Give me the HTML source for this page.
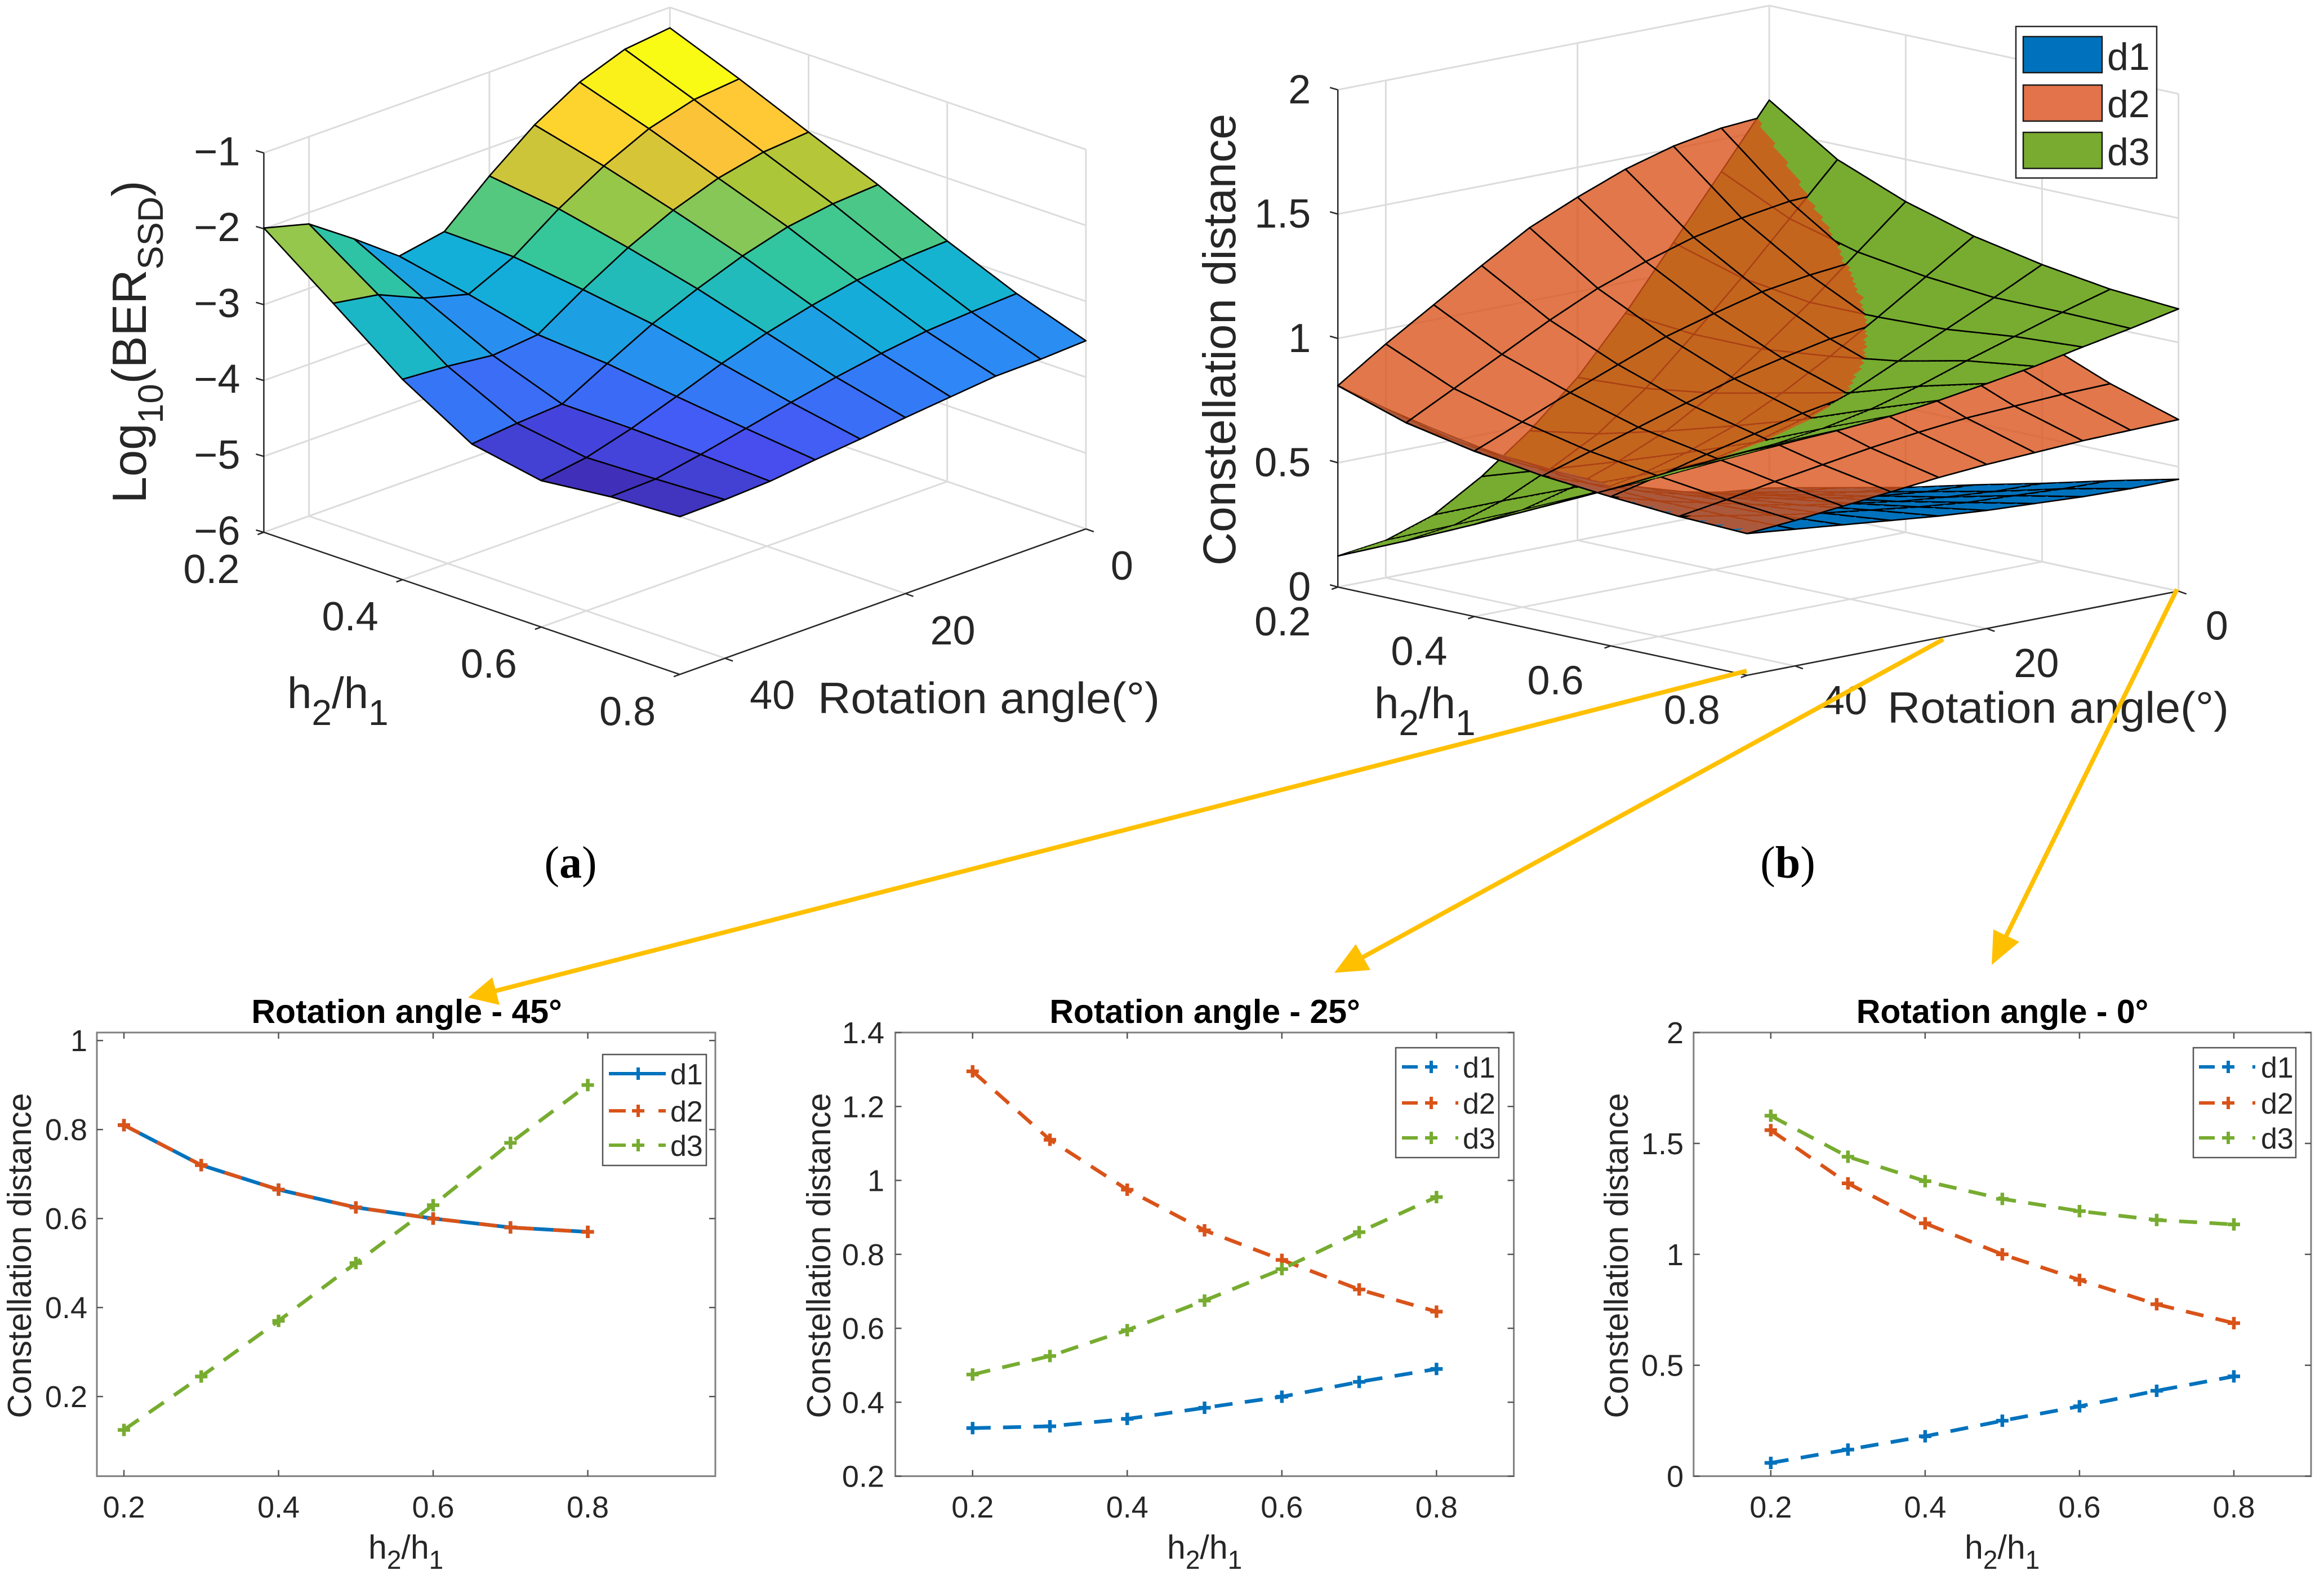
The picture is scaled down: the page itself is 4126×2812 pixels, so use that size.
<!DOCTYPE html>
<html lang="en">
<head>
<meta charset="utf-8">
<title>Constellation distance and BER surfaces</title>
<style>
html,body{margin:0;padding:0;background:#fff;}
svg{display:block;}
text{font-family:"Liberation Sans",sans-serif;fill:#262626;}
.lab3d{font-size:78px;}
.cap{font-family:"Liberation Serif",serif;font-size:80px;fill:#000;}
.ttl{font-size:59px;font-weight:bold;fill:#000;}
.lab2d{font-size:59px;}
</style>
</head>
<body>
<svg id="fig" xmlns="http://www.w3.org/2000/svg" width="4126" height="2812" viewBox="0 0 4126 2812">
<rect x="0" y="0" width="4126" height="2812" fill="#fff"/>

<g id="panelA"></g>
<g id="panelB"></g>

<!-- panel a labels -->
<text transform="translate(259,607) rotate(-90)" text-anchor="middle" font-size="85">Log<tspan dy="30" font-size="63">10</tspan><tspan dy="-30">(BER</tspan><tspan dy="30" font-size="63">SSD</tspan><tspan dy="-30">)</tspan></text>
<text class="lab3d" x="510" y="1257">h<tspan dy="30" font-size="64">2</tspan><tspan dy="-30">/h</tspan><tspan dy="30" font-size="64">1</tspan></text>
<text class="lab3d" x="1452" y="1266" textLength="607" lengthAdjust="spacingAndGlyphs">Rotation angle(°)</text>

<!-- panel b labels -->
<text transform="translate(2193,603) rotate(-90)" text-anchor="middle" font-size="82">Constellation distance</text>
<text class="lab3d" x="2440" y="1275">h<tspan dy="30" font-size="64">2</tspan><tspan dy="-30">/h</tspan><tspan dy="30" font-size="64">1</tspan></text>
<text class="lab3d" x="3351" y="1283" textLength="606" lengthAdjust="spacingAndGlyphs">Rotation angle(°)</text>

<!-- panel b legend -->
<g>
<rect x="3579" y="47" width="250" height="269" fill="#fff" stroke="#262626" stroke-width="2.5"/>
<rect x="3592" y="65" width="140" height="64" fill="#0072BD" stroke="#1a1a1a" stroke-width="2.5"/>
<rect x="3592" y="151" width="140" height="64" fill="#E2734A" stroke="#1a1a1a" stroke-width="2.5"/>
<rect x="3592" y="235" width="140" height="64" fill="#78AB30" stroke="#1a1a1a" stroke-width="2.5"/>
<text x="3741" y="124" font-size="68">d1</text>
<text x="3741" y="208" font-size="68">d2</text>
<text x="3741" y="293" font-size="68">d3</text>
</g>

<!-- captions -->
<text class="cap" x="1013" y="1558" text-anchor="middle">(<tspan font-weight="bold">a</tspan>)</text>
<text class="cap" x="3174" y="1558" text-anchor="middle">(<tspan font-weight="bold">b</tspan>)</text>

<g id="charts"></g>

<!-- chart titles and axis titles -->
<text class="ttl" x="722" y="1816" text-anchor="middle">Rotation angle - 45°</text>
<text class="ttl" x="2139" y="1816" text-anchor="middle">Rotation angle - 25°</text>
<text class="ttl" x="3555" y="1816" text-anchor="middle">Rotation angle - 0°</text>

<text class="lab2d" transform="translate(55,2229) rotate(-90)" text-anchor="middle">Constellation distance</text>
<text class="lab2d" transform="translate(1474,2229) rotate(-90)" text-anchor="middle">Constellation distance</text>
<text class="lab2d" transform="translate(2890,2229) rotate(-90)" text-anchor="middle">Constellation distance</text>

<text class="lab2d" x="654" y="2767">h<tspan dy="18" font-size="46">2</tspan><tspan dy="-18">/h</tspan><tspan dy="18" font-size="46">1</tspan></text>
<text class="lab2d" x="2072" y="2767">h<tspan dy="18" font-size="46">2</tspan><tspan dy="-18">/h</tspan><tspan dy="18" font-size="46">1</tspan></text>
<text class="lab2d" x="3488" y="2767">h<tspan dy="18" font-size="46">2</tspan><tspan dy="-18">/h</tspan><tspan dy="18" font-size="46">1</tspan></text>

<!-- yellow callout arrows -->
<g fill="#FFC000" stroke="none">
<line x1="3101" y1="1191" x2="880" y2="1759" stroke="#FFC000" stroke-width="8"/>
<polygon points="831,1771 874,1735 887,1784"/>
<line x1="3450" y1="1135" x2="2420" y2="1699" stroke="#FFC000" stroke-width="8"/>
<polygon points="2369,1727 2433,1722 2407,1676"/>
<line x1="3865" y1="1046" x2="3562" y2="1661" stroke="#FFC000" stroke-width="8"/>
<polygon points="3536,1713 3585,1672 3539,1650"/>
</g>
</svg>

<script>
// ---------- data: panel (a), log10(BER) rows h2/h1 = .2 ... .8, columns angle = 45 ... 0 (step 5)
const berSurface = [
 [-1.99,-2.15,-2.56,-3.00,-2.89,-2.37,-1.91,-1.56,-1.34,-1.27],
 [-2.67,-2.77,-3.03,-3.19,-2.91,-2.49,-2.14,-1.86,-1.69,-1.63],
 [-3.36,-3.40,-3.47,-3.41,-3.03,-2.69,-2.41,-2.20,-2.07,-2.02],
 [-3.90,-3.84,-3.80,-3.48,-3.17,-2.92,-2.70,-2.53,-2.44,-2.40],
 [-4.07,-3.98,-3.81,-3.60,-3.38,-3.19,-3.04,-2.92,-2.86,-2.83],
 [-3.97,-3.95,-3.84,-3.71,-3.58,-3.46,-3.36,-3.28,-3.24,-3.21],
 [-3.92,-3.91,-3.88,-3.81,-3.75,-3.68,-3.62,-3.56,-3.55,-3.52]
];
// ---------- data: panel (b), same grid
const d1Surface = [
 [.81,.68,.56,.44,.33,.25,.18,.12,.08,.06],
 [.72,.61,.51,.42,.335,.27,.21,.17,.14,.12],
 [.665,.575,.49,.42,.355,.30,.26,.225,.20,.18],
 [.625,.555,.49,.435,.385,.345,.31,.28,.26,.25],
 [.60,.545,.50,.455,.415,.385,.355,.335,.32,.315],
 [.58,.545,.51,.48,.455,.43,.41,.40,.39,.385],
 [.57,.55,.53,.51,.49,.475,.465,.455,.45,.45]
];
const d2Surface = [
 [.81,.94,1.06,1.18,1.295,1.38,1.455,1.51,1.545,1.56],
 [.72,.82,.92,1.02,1.11,1.18,1.24,1.28,1.31,1.32],
 [.665,.745,.825,.90,.975,1.03,1.08,1.11,1.13,1.14],
 [.625,.685,.745,.805,.865,.91,.95,.975,.99,1.0],
 [.60,.645,.695,.74,.785,.82,.85,.87,.88,.885],
 [.58,.61,.645,.675,.705,.73,.75,.76,.77,.775],
 [.57,.585,.605,.625,.645,.66,.67,.68,.685,.69]
];
const d3Surface = [
 [.125,.15,.215,.332,.478,.655,.876,1.122,1.37,1.62],
 [.245,.27,.33,.42,.525,.67,.85,1.04,1.24,1.44],
 [.37,.39,.44,.51,.595,.71,.85,1.0,1.165,1.33],
 [.50,.515,.55,.605,.675,.77,.88,1.0,1.125,1.25],
 [.63,.64,.665,.705,.76,.83,.92,1.01,1.10,1.195],
 [.77,.775,.795,.82,.86,.915,.98,1.04,1.10,1.155],
 [.90,.905,.915,.93,.955,.985,1.017,1.057,1.094,1.135]
];
// ---------- axis ticks of the 3-D panels
const hTicks3d = [0.2,0.4,0.6,0.8];
const hTickLabels3d = ['0.2','0.4','0.6','0.8'];
const angleTicks3d = [40,20,0];
const angleTickLabels3d = ['40','20','0'];
const berTicks = [-6,-5,-4,-3,-2,-1];
const berTickLabels = ['\u22126','\u22125','\u22124','\u22123','\u22122','\u22121'];
const distTicks = [0,0.5,1,1.5,2];
const distTickLabels = ['0','0.5','1','1.5','2'];

// ---------- data: slice charts
const hValues = [0.2,0.3,0.4,0.5,0.6,0.7,0.8];
const a45d1 = [.81,.72,.665,.625,.60,.58,.57];
const a45d2 = [.81,.72,.665,.625,.60,.58,.57];
const a45d3 = [.125,.245,.37,.50,.63,.77,.90];
const a25d1 = [.33,.335,.355,.385,.415,.455,.49];
const a25d2 = [1.295,1.11,.975,.865,.785,.705,.645];
const a25d3 = [.475,.525,.595,.675,.76,.86,.955];
const a0d1 = [.06,.12,.18,.25,.315,.385,.45];
const a0d2 = [1.56,1.32,1.14,1.0,.885,.775,.69];
const a0d3 = [1.625,1.44,1.33,1.25,1.195,1.155,1.135];
const xTickValues = [0.2,0.4,0.6,0.8];
const xTickLabels = ['0.2','0.4','0.6','0.8'];
const a45YTicks = [0.2,0.4,0.6,0.8,1];
const a45YLabels = ['0.2','0.4','0.6','0.8','1'];
const a25YTicks = [0.2,0.4,0.6,0.8,1,1.2,1.4];
const a25YLabels = ['0.2','0.4','0.6','0.8','1','1.2','1.4'];
const a0YTicks = [0,0.5,1,1.5,2];
const a0YLabels = ['0','0.5','1','1.5','2'];
const seriesNames = ['d1','d2','d3'];

// ---------- helpers
const NS = 'http://www.w3.org/2000/svg';
function gridLine(parent,x1,y1,x2,y2){
  const el = document.createElementNS(NS,'line');
  
  
  el.setAttribute('x1',x1);el.setAttribute('y1',y1);el.setAttribute('x2',x2);el.setAttribute('y2',y2);
  el.setAttribute('stroke','#dcdcdc');el.setAttribute('stroke-width','3');
  parent.appendChild(el);
}
function axisLine(parent,x1,y1,x2,y2,color,w){
  const el = document.createElementNS(NS,'line');
  
  
  el.setAttribute('x1',x1);el.setAttribute('y1',y1);el.setAttribute('x2',x2);el.setAttribute('y2',y2);
  el.setAttribute('stroke',color);el.setAttribute('stroke-width',w);
  parent.appendChild(el);
}
function tickMark(parent,x1,y1,x2,y2,color,w){
  const el = document.createElementNS(NS,'line');
  
  
  el.setAttribute('x1',x1);el.setAttribute('y1',y1);el.setAttribute('x2',x2);el.setAttribute('y2',y2);
  el.setAttribute('stroke',color);el.setAttribute('stroke-width',w);
  parent.appendChild(el);
}
function tickText(parent,x,y,str,anchor,size){
  const el = document.createElementNS(NS,'text');
  
  
  el.setAttribute('x',x);el.setAttribute('y',y);
  el.setAttribute('text-anchor',anchor);
  el.setAttribute('font-size',size);
  el.textContent = str;
  parent.appendChild(el);
}
function parula(t){
  const stops=[[.2422,.1504,.6603],[.2810,.3228,.9579],[.1786,.5289,.9682],[.0689,.6948,.8394],
               [.2161,.7843,.5923],[.6720,.7793,.2227],[.9970,.7659,.2199],[.9769,.9839,.0805]];
  const p=Math.max(0,Math.min(1,t))*(stops.length-1);
  const k=Math.min(stops.length-2,Math.floor(p)),f=p-k;
  const c=stops[k].map((v,n)=>Math.round(255*(v+(stops[k+1][n]-v)*f)));
  return 'rgb('+c.join(',')+')';
}
// box frame (walls + floor) for a 3-D panel
function drawBox3d(parent,proj,zMin,zMax,zTicks,zLabels,hLabelOff,aLabelOff,zLabelOff){
  const hIdx = h => (h-0.2)/0.1;
  const aIdx = a => (45-a)/5;
  const gi = [0,hIdx(0.4),hIdx(0.6),hIdx(0.8)];
  const gj = angleTicks3d.map(aIdx);
  gi.forEach(i=>{const a=proj(i,0,zMin),b=proj(i,9,zMin);gridLine(parent,a[0],a[1],b[0],b[1]);});
  gj.forEach(j=>{const a=proj(0,j,zMin),b=proj(6,j,zMin);gridLine(parent,a[0],a[1],b[0],b[1]);});
  gj.forEach(j=>{const a=proj(0,j,zMin),b=proj(0,j,zMax);gridLine(parent,a[0],a[1],b[0],b[1]);});
  gi.slice(1).forEach(i=>{const a=proj(i,9,zMin),b=proj(i,9,zMax);gridLine(parent,a[0],a[1],b[0],b[1]);});
  zTicks.forEach(z=>{
    const a=proj(0,0,z),b=proj(0,9,z),c=proj(6,9,z);
    gridLine(parent,a[0],a[1],b[0],b[1]);gridLine(parent,b[0],b[1],c[0],c[1]);
  });
  const L=proj(0,0,zMin),F=proj(6,0,zMin),R=proj(6,9,zMin),T=proj(0,0,zMax);
  axisLine(parent,L[0],L[1],F[0],F[1],'#262626',2.5);
  axisLine(parent,F[0],F[1],R[0],R[1],'#262626',2.5);
  axisLine(parent,L[0],L[1],T[0],T[1],'#262626',2.5);
  zTicks.forEach((z,n)=>{
    const p=proj(0,0,z);
    tickMark(parent,p[0]-14,p[1]-4,p[0],p[1],'#262626',2.5);
    tickText(parent,p[0]+zLabelOff[0],p[1]+zLabelOff[1],zLabels[n],'end',72);
  });
  hTicks3d.forEach((h,n)=>{
    const p=proj(hIdx(h),0,zMin);
    tickMark(parent,p[0]-11,p[1]+4,p[0],p[1],'#262626',2.5);
    tickText(parent,p[0]+hLabelOff[0],p[1]+hLabelOff[1],hTickLabels3d[n],'middle',72);
  });
  angleTicks3d.forEach((a,n)=>{
    const p=proj(6,aIdx(a),zMin);
    tickMark(parent,p[0]+14,p[1]+5,p[0],p[1],'#262626',2.5);
    tickText(parent,p[0]+aLabelOff[0],p[1]+aLabelOff[1],angleTickLabels3d[n],'start',72);
  });
}

// ---------- panel (a)
const projA = (i,j,z)=>[468.4+123.1*i+80.1*j, 944.9+42.06*i-28.7*j-134.7*(z+6)];
(function(){
  const g=document.getElementById('panelA');
  drawBox3d(g,projA,-6,-1,berTicks,berTickLabels,[-93,90],[44,90],[-42,22]);
  let lo=Infinity,hi=-Infinity;
  berSurface.forEach(r=>r.forEach(v=>{lo=Math.min(lo,v);hi=Math.max(hi,v);}));
  for(let i=0;i<6;i++){
    for(let j=8;j>=0;j--){
      const pts=[[i,j],[i+1,j],[i+1,j+1],[i,j+1]].map(q=>projA(q[0],q[1],berSurface[q[0]][q[1]]).map(v=>v.toFixed(1)).join(','));
      const el=document.createElementNS(NS,'polygon');
      
      
      el.setAttribute('points',pts.join(' '));
      el.setAttribute('fill',parula((berSurface[i][j+1]-lo)/(hi-lo)));
      el.setAttribute('stroke','#000');
      el.setAttribute('stroke-width','2.6');
      el.setAttribute('stroke-linejoin','round');
      g.appendChild(el);
    }
  }
})();

// ---------- panel (b)
const projB = (i,j,z)=>[2375.2+121.1*i+85.1*j, 1042.2+26.1*i-16.6*j-441.4*z];
const depthB = (i,j,z)=>124.6*i-79.3*j+92.5*z;
(function(){
  const g=document.getElementById('panelB');
  drawBox3d(g,projB,0,2,distTicks,distTickLabels,[-98,86],[48,86],[-48,24]);
  const surfaces=[
    {Z:d1Surface,fill:'#0072BD',op:1,N:4},
    {Z:d2Surface,fill:'#D95319',op:0.79,N:12},
    {Z:d3Surface,fill:'#77AC30',op:1,N:12}
  ];
  const items=[];
  surfaces.forEach(s=>{
    const Z=s.Z,N=s.N;
    const bil=(i,j,u,v)=>(1-u)*(1-v)*Z[i][j]+u*(1-v)*Z[i+1][j]+(1-u)*v*Z[i][j+1]+u*v*Z[i+1][j+1];
    for(let i=0;i<6;i++)for(let j=0;j<9;j++)for(let a=0;a<N;a++)for(let b=0;b<N;b++){
      const u0=a/N,u1=(a+1)/N,v0=b/N,v1=(b+1)/N;
      const corner=(u,v)=>{const z=bil(i,j,u,v);return {p:projB(i+u,j+v,z).map(n=>n.toFixed(1)),d:depthB(i+u,j+v,z)};};
      const c=[corner(u0,v0),corner(u1,v0),corner(u1,v1),corner(u0,v1)];
      const segs=[];
      if(a===0)segs.push([c[0],c[3]]);
      if(a===N-1)segs.push([c[1],c[2]]);
      if(b===0)segs.push([c[0],c[1]]);
      if(b===N-1)segs.push([c[3],c[2]]);
      items.push({d:(c[0].d+c[1].d+c[2].d+c[3].d)/4,c,segs,fill:s.fill,op:s.op});
    }
  });
  items.sort((x,y)=>x.d-y.d);
  const frag=document.createDocumentFragment();
  items.forEach(it=>{
    const el=document.createElementNS(NS,'polygon');
    
    
    el.setAttribute('points',it.c.map(q=>q.p.join(',')).join(' '));
    el.setAttribute('fill',it.fill);
    if(it.op<1)el.setAttribute('fill-opacity',it.op);
    el.setAttribute('shape-rendering','crispEdges');
    frag.appendChild(el);
    it.segs.forEach(sg=>{
      const ln=document.createElementNS(NS,'line');
      
      
      ln.setAttribute('x1',sg[0].p[0]);ln.setAttribute('y1',sg[0].p[1]);
      ln.setAttribute('x2',sg[1].p[0]);ln.setAttribute('y2',sg[1].p[1]);
      ln.setAttribute('stroke','#000');ln.setAttribute('stroke-width','2.6');
      ln.setAttribute('stroke-linecap','round');
      frag.appendChild(ln);
    });
  });
  g.appendChild(frag);
})();

// ---------- slice charts
const COLORS={d1:'#0072BD',d2:'#D95319',d3:'#77AC30'};
function drawChart(cfg){
  const root=document.getElementById('charts');
  const g=document.createElementNS(NS,'g');
  
  
  root.appendChild(g);
  const x=v=>cfg.left+(v-cfg.xlim[0])/(cfg.xlim[1]-cfg.xlim[0])*(cfg.right-cfg.left);
  const y=v=>cfg.bottom-(v-cfg.ylim[0])/(cfg.ylim[1]-cfg.ylim[0])*(cfg.bottom-cfg.top);
  const frame=document.createElementNS(NS,'rect');
  
  
  frame.setAttribute('x',cfg.left);frame.setAttribute('y',cfg.top);
  frame.setAttribute('width',cfg.right-cfg.left);frame.setAttribute('height',cfg.bottom-cfg.top);
  frame.setAttribute('fill','#fff');frame.setAttribute('stroke','#808080');frame.setAttribute('stroke-width','3');
  g.appendChild(frame);
  xTickValues.forEach((v,n)=>{
    tickMark(g,x(v),cfg.bottom,x(v),cfg.bottom-11,'#555',2.5);
    tickMark(g,x(v),cfg.top,x(v),cfg.top+11,'#555',2.5);
    tickText(g,x(v),2694,xTickLabels[n],'middle',54);
  });
  cfg.yTicks.forEach((v,n)=>{
    tickMark(g,cfg.left,y(v),cfg.left+11,y(v),'#555',2.5);
    tickMark(g,cfg.right,y(v),cfg.right-11,y(v),'#555',2.5);
    tickText(g,cfg.tickX,y(v)+19,cfg.yLabels[n],'end',54);
  });
  cfg.series.forEach(s=>{
    const line=document.createElementNS(NS,'polyline');
    
    
    line.setAttribute('points',s.values.map((v,n)=>x(hValues[n]).toFixed(1)+','+y(v).toFixed(1)).join(' '));
    line.setAttribute('fill','none');
    line.setAttribute('stroke',COLORS[s.name]);
    line.setAttribute('stroke-width','6.5');
    if(s.dash)line.setAttribute('stroke-dasharray',s.dash);
    g.appendChild(line);
    s.values.forEach((v,n)=>{
      const m=document.createElementNS(NS,'path');
      
      
      const px=x(hValues[n]),py=y(v);
      m.setAttribute('d','M'+(px-11)+' '+py+'H'+(px+11)+'M'+px+' '+(py-11)+'V'+(py+11));
      m.setAttribute('stroke',COLORS[s.name]);
      m.setAttribute('stroke-width','6.5');
      m.setAttribute('fill','none');
      g.appendChild(m);
    });
  });
  // legend
  const L=cfg.legend;
  const box=document.createElementNS(NS,'rect');
  
  
  box.setAttribute('x',L.x);box.setAttribute('y',L.y);box.setAttribute('width',L.w);box.setAttribute('height',L.h);
  box.setAttribute('fill','#fff');box.setAttribute('stroke','#555');box.setAttribute('stroke-width','2.5');
  g.appendChild(box);
  seriesNames.forEach((name,n)=>{
    const ry=L.rows[n];
    const ln=document.createElementNS(NS,'line');
    
    
    ln.setAttribute('x1',L.x0);ln.setAttribute('y1',ry);ln.setAttribute('x2',L.x1);ln.setAttribute('y2',ry);
    ln.setAttribute('stroke',COLORS[name]);ln.setAttribute('stroke-width','6');
    const dash=L.dash[n];
    if(dash)ln.setAttribute('stroke-dasharray',dash);
    g.appendChild(ln);
    const mk=document.createElementNS(NS,'path');
    
    
    const mx=L.mx;
    mk.setAttribute('d','M'+(mx-11)+' '+ry+'H'+(mx+11)+'M'+mx+' '+(ry-11)+'V'+(ry+11));
    mk.setAttribute('stroke',COLORS[name]);mk.setAttribute('stroke-width','6');mk.setAttribute('fill','none');
    g.appendChild(mk);
    const t=document.createElementNS(NS,'text');
    
    
    t.setAttribute('x',L.tx);t.setAttribute('y',ry+19);t.setAttribute('font-size','52');
    t.textContent=name;
    g.appendChild(t);
  });
}
drawChart({left:172,right:1270,top:1833,bottom:2620.6,xlim:[0.165,0.965],ylim:[0.021,1.018],tickX:155,
  yTicks:a45YTicks,yLabels:a45YLabels,
  series:[{name:'d1',values:a45d1},{name:'d2',values:a45d2,dash:'32 34'},{name:'d3',values:a45d3,dash:'32 22'}],
  legend:{x:1070,y:1872,w:184,h:197,rows:[1906,1972,2033],x0:1081,x1:1182,mx:1133,tx:1190,dash:[null,'30 58 13','30 58 13']}});
drawChart({left:1589.5,right:2687.6,top:1833,bottom:2620.6,xlim:[0.1,0.9],ylim:[0.2,1.4],tickX:1570,
  yTicks:a25YTicks,yLabels:a25YLabels,
  series:[{name:'d1',values:a25d1,dash:'32 22'},{name:'d2',values:a25d2,dash:'32 22'},{name:'d3',values:a25d3,dash:'32 22'}],
  legend:{x:2478,y:1860,w:183,h:195,rows:[1894,1958,2020],x0:2489,x1:2589,mx:2541,tx:2597,dash:['28 67 5','28 67 5','28 67 5']}});
drawChart({left:3006.8,right:4103,top:1833,bottom:2620.6,xlim:[0.1,0.9],ylim:[0,2],tickX:2989,
  yTicks:a0YTicks,yLabels:a0YLabels,
  series:[{name:'d1',values:a0d1,dash:'32 22'},{name:'d2',values:a0d2,dash:'32 22'},{name:'d3',values:a0d3,dash:'32 22'}],
  legend:{x:3894,y:1860,w:182,h:195,rows:[1894,1958,2020],x0:3904,x1:4004,mx:3956,tx:4014,dash:['28 67 5','28 67 5','28 67 5']}});
</script>
</body>
</html>
